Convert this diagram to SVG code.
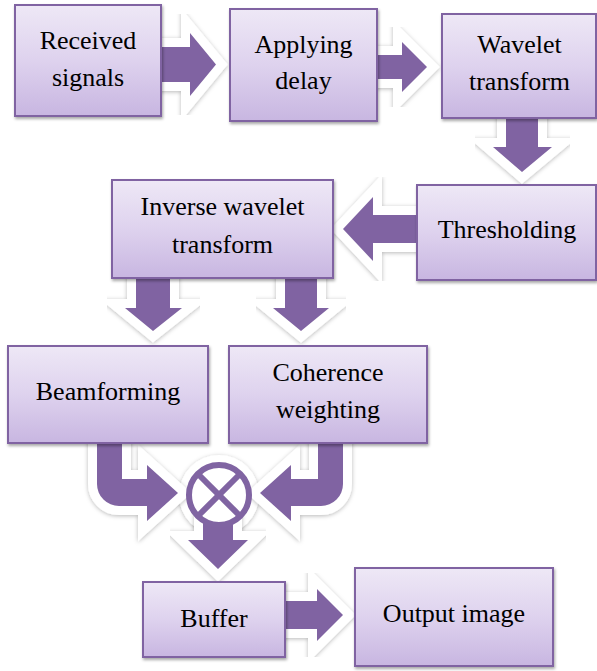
<svg xmlns="http://www.w3.org/2000/svg" width="597" height="671" viewBox="0 0 597 671">
  <defs>
    <linearGradient id="boxFill" x1="0" y1="0" x2="0" y2="1">
      <stop offset="0" stop-color="#EEE8F6"/>
      <stop offset="0.5" stop-color="#DED2EE"/>
      <stop offset="1" stop-color="#C8B6E1"/>
    </linearGradient>
    <filter id="boxShadow" x="-10%" y="-10%" width="125%" height="130%">
      <feDropShadow dx="1" dy="2" stdDeviation="1.5" flood-color="#000" flood-opacity="0.35"/>
    </filter>
    <filter id="haloShadow" x="-30%" y="-30%" width="160%" height="160%">
      <feDropShadow dx="0" dy="1" stdDeviation="2" flood-color="#000" flood-opacity="0.28"/>
    </filter>
  </defs>
  <style>
    .box { fill: url(#boxFill); stroke: #8064A2; stroke-width: 2; filter: url(#boxShadow); }
    .label { font-size: 26px; fill: #000; text-anchor: middle; }
    .arrow { fill: #8064A2; stroke: #FFFFFF; stroke-width: 18; stroke-linejoin: miter; stroke-miterlimit: 4; paint-order: stroke; filter: url(#haloShadow); }
    .halo { fill: #FFFFFF; filter: url(#haloShadow); }
    .mult { fill: #FFFFFF; stroke: #8064A2; stroke-width: 6; }
    .cross { stroke: #8064A2; stroke-width: 6; }
  </style>

  <!-- block arrows between the steps -->
  <g id="connectors">
    <circle class="halo" cx="219" cy="495" r="40"/>
    <!-- Received signals -> Applying delay -->
    <path class="arrow" d="M158,47 L190,47 L190,33 L216,64.5 L190,96 L190,82 L158,82 Z"/>
    <!-- Applying delay -> Wavelet transform -->
    <path class="arrow" d="M374,55 L402,55 L402,42 L427,67 L402,92 L402,79 L374,79 Z"/>
    <!-- Wavelet transform -> Thresholding -->
    <path class="arrow" d="M506,115 L506,147 L493,147 L522,172 L552,147 L538,147 L538,115 Z"/>
    <!-- Thresholding -> Inverse wavelet transform -->
    <path class="arrow" d="M420,215 L373,215 L373,197 L343,229 L373,261 L373,243 L420,243 Z"/>
    <!-- Inverse wavelet transform -> Beamforming -->
    <path class="arrow" d="M136,275 L136,308 L125,308 L153,331 L182,308 L170,308 L170,275 Z"/>
    <!-- Inverse wavelet transform -> Coherence weighting -->
    <path class="arrow" d="M285,275 L285,308 L273,308 L301,331 L329,308 L317,308 L317,275 Z"/>
    <!-- Beamforming -> multiplier -->
    <path class="arrow" d="M97,440 L97,484 A22,22 0 0 0 119,506 L147,506 L147,521 L178,493 L147,465 L147,479 L122,479 L122,440 Z"/>
    <!-- Coherence weighting -> multiplier -->
    <path class="arrow" d="M343,440 L343,484 A22,22 0 0 1 321,506 L291,506 L291,521 L260,493 L291,465 L291,479 L318,479 L318,440 Z"/>
    <!-- multiplier -> Buffer -->
    <path class="arrow" d="M203,522 L203,540 L188,540 L218,569 L248,540 L233,540 L233,522 Z"/>
    <!-- Buffer -> Output image -->
    <path class="arrow" d="M282,601 L317,601 L317,589 L343,615 L317,641 L317,629 L282,629 Z"/>
  </g>

  <!-- multiplier node -->
  <g id="multiply">
    <circle class="mult" cx="219" cy="495" r="30"/>
    <line class="cross" x1="198" y1="474" x2="240" y2="516"/>
    <line class="cross" x1="240" y1="474" x2="198" y2="516"/>
  </g>

  <g id="nodes" font-family="'Liberation Serif', 'Times New Roman', 'DejaVu Serif', serif">
    <g id="received">
      <rect class="box" x="15" y="5" width="146" height="111"/>
      <text class="label" x="88" y="49">Received</text>
      <text class="label" x="88" y="86">signals</text>
    </g>
    <g id="delay">
      <rect class="box" x="230" y="9" width="147" height="112"/>
      <text class="label" x="303.5" y="53">Applying</text>
      <text class="label" x="303.5" y="89">delay</text>
    </g>
    <g id="wavelet">
      <rect class="box" x="442" y="14" width="154" height="104"/>
      <text class="label" x="519.5" y="53">Wavelet</text>
      <text class="label" x="519.5" y="90">transform</text>
    </g>
    <g id="threshold">
      <rect class="box" x="417" y="185" width="179" height="95"/>
      <text class="label" x="507" y="238">Thresholding</text>
    </g>
    <g id="inverse">
      <rect class="box" x="112" y="180" width="221" height="98"/>
      <text class="label" x="222.5" y="215">Inverse wavelet</text>
      <text class="label" x="222.5" y="253">transform</text>
    </g>
    <g id="beamforming">
      <rect class="box" x="8" y="346" width="200" height="97"/>
      <text class="label" x="108" y="400">Beamforming</text>
    </g>
    <g id="coherence">
      <rect class="box" x="229" y="346" width="198" height="97"/>
      <text class="label" x="328" y="381">Coherence</text>
      <text class="label" x="328" y="418">weighting</text>
    </g>
    <g id="buffer">
      <rect class="box" x="143" y="582" width="142" height="75"/>
      <text class="label" x="214" y="627">Buffer</text>
    </g>
    <g id="output">
      <rect class="box" x="355" y="568" width="198" height="98"/>
      <text class="label" x="454" y="622">Output image</text>
    </g>
  </g>
</svg>
